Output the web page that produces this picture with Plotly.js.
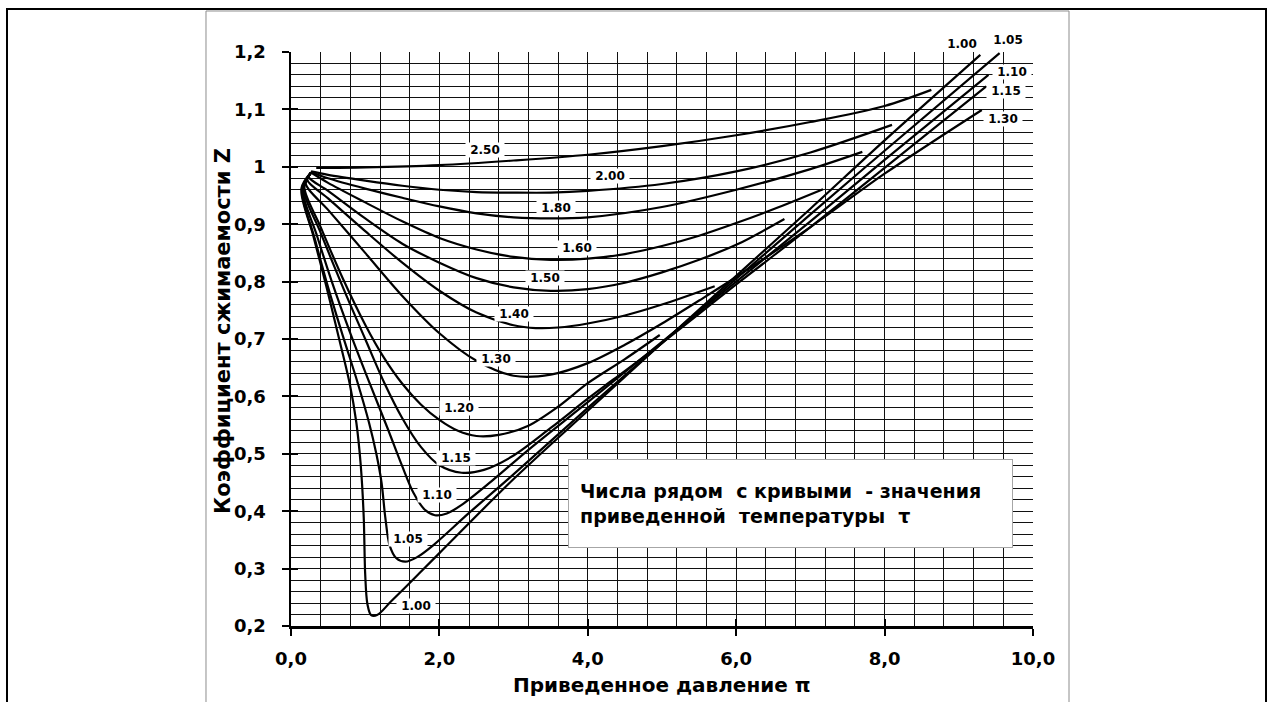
<!DOCTYPE html>
<html>
<head>
<meta charset="utf-8">
<script src="https://cdn.plot.ly/plotly-3.0.1.min.js"></script>
<style>html,body{margin:0;padding:0;background:#fff;}#chart{width:1273px;height:702px;}</style>
</head>
<body>
<div id="chart"></div>
<script>
// ---- axis ticks ----
const piTicks = [0, 2, 4, 6, 8, 10];
const piTickText = ['0,0', '2,0', '4,0', '6,0', '8,0', '10,0'];
const zTicks = [0.2, 0.3, 0.4, 0.5, 0.6, 0.7, 0.8, 0.9, 1.0, 1.1, 1.2];
const zTickText = ['0,2', '0,3', '0,4', '0,5', '0,6', '0,7', '0,8', '0,9', '1', '1,1', '1,2'];

// ---- curves: reduced pressure pi and compressibility Z, for each reduced temperature tau ----
const tauNames = ['1.00', '1.05', '1.10', '1.15', '1.20', '1.30', '1.40', '1.50', '1.60', '1.80', '2.00', '2.50'];

const pi_100 = [0.27, 0.14, 0.30, 0.47, 0.63, 0.79, 0.88, 0.94, 0.98, 1.00, 1.03, 1.08, 1.16, 1.35, 1.70, 2.00, 3.00, 4.00, 5.00, 6.00, 7.00, 8.00, 9.29];
const z_100  = [0.990, 0.962, 0.880, 0.795, 0.710, 0.623, 0.555, 0.480, 0.390, 0.290, 0.238, 0.219, 0.219, 0.243, 0.288, 0.327, 0.456, 0.575, 0.693, 0.810, 0.927, 1.046, 1.195];

const pi_105 = [0.27, 0.15, 0.32, 0.50, 0.70, 0.90, 1.05, 1.15, 1.22, 1.27, 1.33, 1.42, 1.54, 1.70, 1.92, 2.40, 2.91, 4.00, 5.00, 6.00, 7.00, 8.00, 9.55];
const z_105  = [0.990, 0.960, 0.875, 0.790, 0.705, 0.623, 0.555, 0.500, 0.450, 0.390, 0.340, 0.318, 0.312, 0.320, 0.341, 0.397, 0.454, 0.580, 0.693, 0.805, 0.917, 1.028, 1.198];

const pi_110 = [0.27, 0.16, 0.35, 0.55, 0.80, 1.06, 1.30, 1.50, 1.65, 1.80, 1.94, 2.10, 2.30, 2.70, 3.20, 4.00, 5.00, 6.00, 7.00, 8.00, 9.40];
const z_110  = [0.990, 0.960, 0.880, 0.800, 0.710, 0.623, 0.545, 0.478, 0.432, 0.403, 0.393, 0.396, 0.411, 0.452, 0.507, 0.590, 0.695, 0.800, 0.905, 1.012, 1.160];

const pi_115 = [0.27, 0.17, 0.40, 0.70, 1.00, 1.26, 1.50, 1.75, 2.00, 2.30, 2.60, 3.00, 3.50, 4.00, 4.34, 5.00, 6.00, 7.00, 8.00, 9.37];
const z_115  = [0.990, 0.962, 0.885, 0.790, 0.700, 0.623, 0.562, 0.512, 0.480, 0.467, 0.472, 0.497, 0.545, 0.596, 0.629, 0.693, 0.795, 0.895, 0.998, 1.140];

const pi_120 = [0.27, 0.18, 0.40, 0.70, 1.00, 1.25, 1.50, 1.75, 2.00, 2.25, 2.50, 2.80, 3.20, 3.60, 4.00, 4.50, 4.97];
const z_120  = [0.990, 0.965, 0.895, 0.805, 0.725, 0.668, 0.622, 0.586, 0.559, 0.540, 0.531, 0.533, 0.549, 0.582, 0.623, 0.665, 0.707];

const pi_130 = [0.27, 0.20, 0.50, 1.00, 1.50, 2.00, 2.50, 3.00, 3.50, 4.00, 4.50, 5.00, 5.50, 6.00, 7.00, 8.00, 9.31];
const z_130  = [0.990, 0.970, 0.925, 0.850, 0.775, 0.710, 0.662, 0.636, 0.638, 0.658, 0.690, 0.727, 0.767, 0.808, 0.895, 0.988, 1.099];

const pi_140 = [0.27, 0.22, 0.50, 1.00, 1.50, 2.00, 2.50, 3.00, 3.30, 3.60, 4.00, 4.50, 5.00, 5.71];
const z_140  = [0.990, 0.977, 0.945, 0.888, 0.833, 0.784, 0.746, 0.724, 0.719, 0.720, 0.727, 0.741, 0.760, 0.792];

const pi_150 = [0.27, 0.24, 0.50, 1.00, 1.50, 2.00, 2.50, 3.00, 3.50, 4.00, 4.50, 5.00, 5.50, 6.00, 6.65];
const z_150  = [0.990, 0.982, 0.958, 0.910, 0.866, 0.833, 0.806, 0.790, 0.784, 0.787, 0.798, 0.816, 0.838, 0.864, 0.909];

const pi_160 = [0.27, 0.50, 1.00, 1.50, 2.00, 2.50, 3.00, 3.50, 4.00, 4.50, 5.00, 5.50, 6.00, 6.50, 7.17];
const z_160  = [0.990, 0.972, 0.938, 0.905, 0.876, 0.856, 0.843, 0.838, 0.840, 0.848, 0.862, 0.880, 0.902, 0.926, 0.961];

const pi_180 = [0.27, 0.50, 1.00, 1.50, 2.00, 2.50, 3.00, 3.50, 4.00, 5.00, 6.00, 7.00, 7.70];
const z_180  = [0.991, 0.980, 0.962, 0.946, 0.931, 0.919, 0.912, 0.910, 0.912, 0.930, 0.960, 0.996, 1.026];

const pi_200 = [0.27, 0.50, 1.00, 1.50, 2.00, 2.50, 3.00, 3.50, 4.00, 5.00, 6.00, 7.00, 8.10];
const z_200  = [0.992, 0.986, 0.976, 0.967, 0.960, 0.956, 0.955, 0.955, 0.958, 0.970, 0.992, 1.025, 1.073];

const pi_250 = [0.34, 1.00, 2.00, 3.00, 4.00, 5.00, 6.00, 7.00, 8.00, 8.63];
const z_250  = [0.998, 0.999, 1.003, 1.011, 1.021, 1.036, 1.055, 1.078, 1.106, 1.134];

const curvePi = [pi_100, pi_105, pi_110, pi_115, pi_120, pi_130, pi_140, pi_150, pi_160, pi_180, pi_200, pi_250];
const curveZ  = [z_100, z_105, z_110, z_115, z_120, z_130, z_140, z_150, z_160, z_180, z_200, z_250];

// ---- curve label texts and where they sit (layout placement, in axis units) ----
const curveLabelText = ['1.00', '1.05', '1.10', '1.15', '1.20', '1.30', '1.40', '1.50', '1.60', '1.80', '2.00', '2.50',
                        '1.00', '1.05', '1.10', '1.15', '1.30'];
const curveLabelPlace = [[1.69, 0.234], [1.58, 0.352], [1.97, 0.428], [2.23, 0.493], [2.26, 0.579], [2.76, 0.666],
                         [3.01, 0.744], [3.42, 0.806], [3.85, 0.858], [3.57, 0.928], [4.30, 0.984], [2.61, 1.029],
                         [9.04, 1.214], [9.66, 1.221], [9.72, 1.165], [9.64, 1.132], [9.60, 1.083]];

const noteText = 'Числа рядом\u00a0 с кривыми\u00a0 - значения<br>приведенной\u00a0 температуры\u00a0 τ';
const xTitle = 'Приведенное давление π';
const yTitle = 'Коэффициент сжимаемости Z';

// ---- build ----
const FONT = 'DejaVu Sans';
const X_RANGE = [0, 10], Y_RANGE = [0.2, 1.2];
const traces = curvePi.map((px, i) => ({
  type: 'scatter', mode: 'lines', name: tauNames[i],
  x: px, y: curveZ[i], xaxis: 'x', yaxis: 'y',
  line: {color: '#000', width: 2.2, shape: 'spline', smoothing: 0.9},
  showlegend: false, hoverinfo: 'skip'
}));
// empty trace that carries the overlaid axes used for the inner half of the crossing ticks
traces.push({type: 'scatter', mode: 'lines', x: [], y: [], xaxis: 'x2', yaxis: 'y2', showlegend: false, hoverinfo: 'skip'});

const gridCol = '#111';
// labels are placed in axis units, converted to paper fractions so labels above the plot top are still drawn
const annotations = curveLabelText.map((t, i) => ({
  x: (curveLabelPlace[i][0] - X_RANGE[0]) / (X_RANGE[1] - X_RANGE[0]),
  y: (curveLabelPlace[i][1] - Y_RANGE[0]) / (Y_RANGE[1] - Y_RANGE[0]),
  xref: 'paper', yref: 'paper', xanchor: 'center', yanchor: 'middle',
  text: '\u00a0' + t + '\u00a0', showarrow: false, bgcolor: '#fff', borderpad: 0,
  font: {family: FONT, size: 12, color: '#000', weight: 'bold'}
}));
annotations.push({
  xref: 'paper', yref: 'paper', x: 0.6732, y: 0.2134, xanchor: 'center', yanchor: 'middle',
  text: noteText, showarrow: false, align: 'left', valign: 'middle',
  width: 421, height: 65, borderpad: 11, borderwidth: 1, bordercolor: '#a6a6a6', bgcolor: '#fff',
  font: {family: FONT, size: 19, color: '#000', weight: 'bold'}
});
annotations.push({
  xref: 'paper', yref: 'paper', x: 0.5, y: -0.1028, xanchor: 'center', yanchor: 'middle',
  text: xTitle, showarrow: false,
  font: {family: FONT, size: 20, color: '#000', weight: 'bold'}
});
annotations.push({
  xref: 'paper', yref: 'paper', x: -0.0916, y: 0.514, xanchor: 'center', yanchor: 'middle',
  text: yTitle, showarrow: false, textangle: -90,
  font: {family: FONT, size: 21, color: '#000', weight: 'bold'}
});

const layout = {
  width: 1273, height: 702, autosize: false,
  margin: {l: 291, r: 240, t: 52, b: 76, pad: 0},
  paper_bgcolor: '#fff', plot_bgcolor: '#fff',
  showlegend: false,
  font: {family: FONT, color: '#000'},
  xaxis: {
    range: X_RANGE, tickmode: 'array', tickvals: piTicks, ticktext: piTickText,
    ticks: 'outside', ticklen: 7, tickwidth: 2, tickcolor: '#000',
    ticklabelstandoff: 8,
    showline: true, linecolor: '#000', linewidth: 2.5,
    showgrid: true, gridcolor: gridCol, gridwidth: 1, zeroline: false,
    minor: {tickmode: 'linear', tick0: 0, dtick: 0.4, showgrid: true, gridcolor: gridCol, gridwidth: 1, ticks: ''},
    tickfont: {family: FONT, size: 18, color: '#000', weight: 'bold'},
    fixedrange: true
  },
  yaxis: {
    range: Y_RANGE, tickmode: 'array', tickvals: zTicks, ticktext: zTickText,
    ticks: 'outside', ticklen: 7, tickwidth: 2, tickcolor: '#000',
    ticklabelstandoff: 12,
    showline: true, linecolor: '#000', linewidth: 2.5,
    showgrid: true, gridcolor: gridCol, gridwidth: 1, zeroline: false,
    minor: {tickmode: 'linear', tick0: 0.2, dtick: 0.02, showgrid: true, gridcolor: gridCol, gridwidth: 1, ticks: ''},
    tickfont: {family: FONT, size: 18, color: '#000', weight: 'bold'},
    fixedrange: true
  },
  xaxis2: {
    overlaying: 'x', anchor: 'y2', range: X_RANGE, tickmode: 'array', tickvals: piTicks,
    ticks: 'inside', ticklen: 7, tickwidth: 2, tickcolor: '#000', showticklabels: false,
    showgrid: false, zeroline: false, showline: false, fixedrange: true
  },
  yaxis2: {
    overlaying: 'y', anchor: 'x2', range: Y_RANGE, tickmode: 'array', tickvals: zTicks,
    ticks: 'inside', ticklen: 7, tickwidth: 2, tickcolor: '#000', showticklabels: false,
    showgrid: false, zeroline: false, showline: false, fixedrange: true
  },
  annotations: annotations,
  shapes: [
    {type: 'rect', xref: 'paper', yref: 'paper', x0: -0.38275, x1: 1.31402, y0: -0.16376, y1: 1.07491,
     line: {color: '#000', width: 2}, fillcolor: 'rgba(0,0,0,0)', layer: 'above'},
    {type: 'rect', xref: 'paper', yref: 'paper', x0: -0.11456, x1: 1.04852, y0: -0.16376, y1: 1.07143,
     line: {color: '#8c8c8c', width: 1}, fillcolor: 'rgba(0,0,0,0)', layer: 'above'}
  ]
};

Plotly.newPlot('chart', traces, layout, {staticPlot: true, displayModeBar: false});
</script>
</body>
</html>
